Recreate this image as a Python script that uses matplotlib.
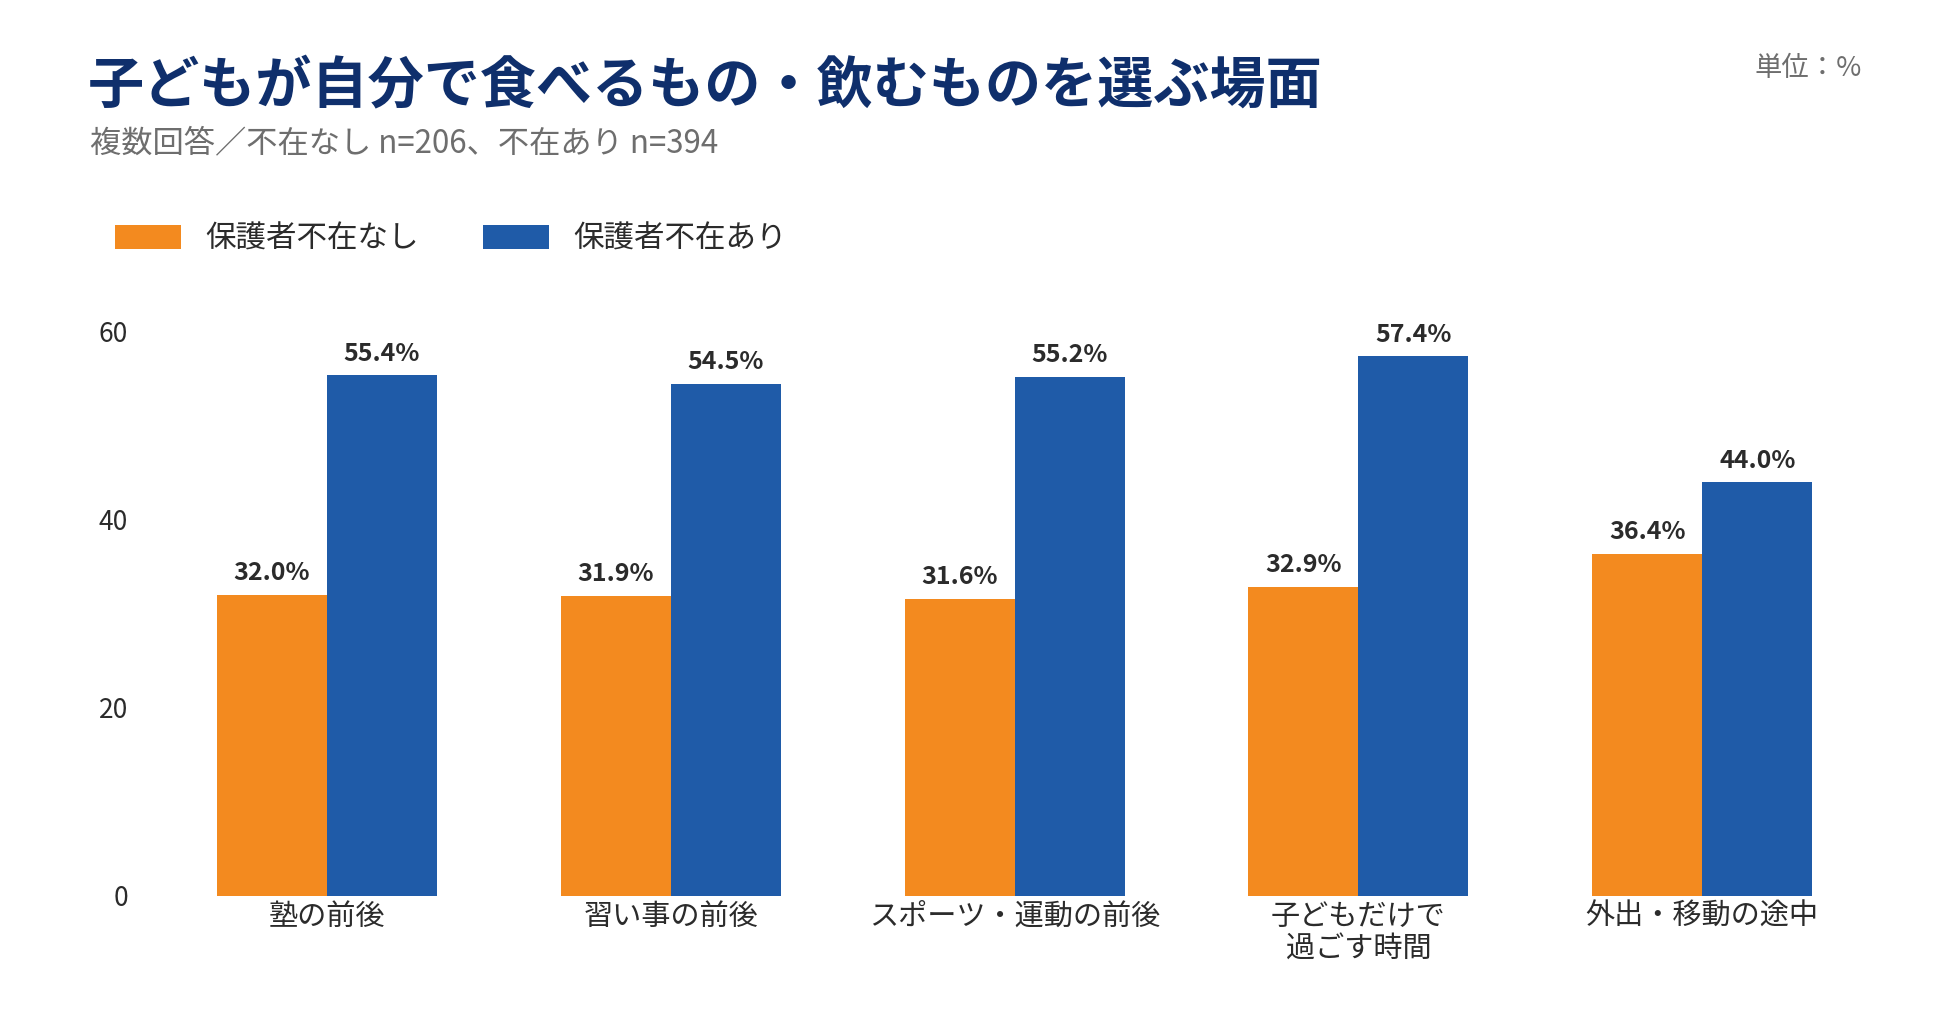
import numpy as np
import matplotlib
matplotlib.use('Agg')
import matplotlib.pyplot as plt

# データ
categories = ['塾の前後', '習い事の前後', 'スポーツ・運動の前後', '子どもだけで\n過ごす時間', '外出・移動の途中']
absent_no = [32.0, 31.9, 31.6, 32.9, 36.4]    # 保護者不在なし
absent_yes = [55.4, 54.5, 55.2, 57.4, 44.0]   # 保護者不在あり
series_names = ['保護者不在なし', '保護者不在あり']
yticks = [0, 20, 40, 60]

title = '子どもが自分で食べるもの・飲むものを選ぶ場面'
subtitle = '複数回答／不在なし n=206、不在あり n=394'
unit = '単位：%'

ORANGE = '#F38A1F'
BLUE = '#1F5BA8'
NAVY = '#0F2F6C'
GREY = '#6E6E6E'
DARK = '#2B2B2B'

plt.rcParams['font.family'] = ['Noto Sans CJK JP', 'DejaVu Sans']

W, H = 1950, 1029
fig = plt.figure(figsize=(W / 100, H / 100), dpi=100)
fig.patch.set_facecolor('white')

# 軸の位置（ピクセルから換算）
left, right = 150, 1850
y0, y60 = 896, 332
ax = fig.add_axes([left / W, (H - y0) / H, (right - left) / W, (y0 - y60) / H])

x = np.arange(len(categories))
bw = 0.32
b1 = ax.bar(x - bw / 2, absent_no, bw, color=ORANGE, label=series_names[0])
b2 = ax.bar(x + bw / 2, absent_yes, bw, color=BLUE, label=series_names[1])

# 数値ラベル
for bars, vals in [(b1, absent_no), (b2, absent_yes)]:
    for rect, v in zip(bars, vals):
        ax.annotate(f'{v:.1f}%', (rect.get_x() + rect.get_width() / 2, v),
                    xytext=(0, 7), textcoords='offset points',
                    ha='center', va='bottom', fontsize=18, fontweight='bold',
                    color=DARK, annotation_clip=False)

x_center0 = 327
unit_px = 343.8
ax.set_xlim((left - x_center0) / unit_px, (right - x_center0) / unit_px)
ax.set_ylim(0, 60)
ax.set_yticks(yticks)
ax.set_xticks(x)
ax.set_xticklabels(categories, fontsize=21, color=DARK, linespacing=1.15)
ax.tick_params(axis='x', length=0, pad=4)
ax.tick_params(axis='y', length=0, pad=16, labelsize=19, labelcolor=DARK)
for s in ax.spines.values():
    s.set_visible(False)

# タイトル・サブタイトル・単位
fig.text(88 / W, 1 - 86 / H, title, fontsize=40.4, fontweight='bold', color=NAVY,
         ha='left', va='center')
fig.text(90 / W, 1 - 143 / H, subtitle, fontsize=22.5, color=GREY, ha='left', va='center')
fig.text(1862 / W, 1 - 68 / H, unit, fontsize=19.7, color=GREY, ha='right', va='center')

# 凡例
fig.legend(handles=[b1, b2], labels=series_names, loc='center left',
           bbox_to_anchor=(115 / W, 1 - 239 / H), ncol=2, frameon=False,
           fontsize=22, labelcolor=DARK, handlelength=2.15, handleheight=0.8,
           handletextpad=0.8, columnspacing=2.1, borderpad=0, borderaxespad=0)

fig.savefig('out.png', dpi=100, facecolor='white')
